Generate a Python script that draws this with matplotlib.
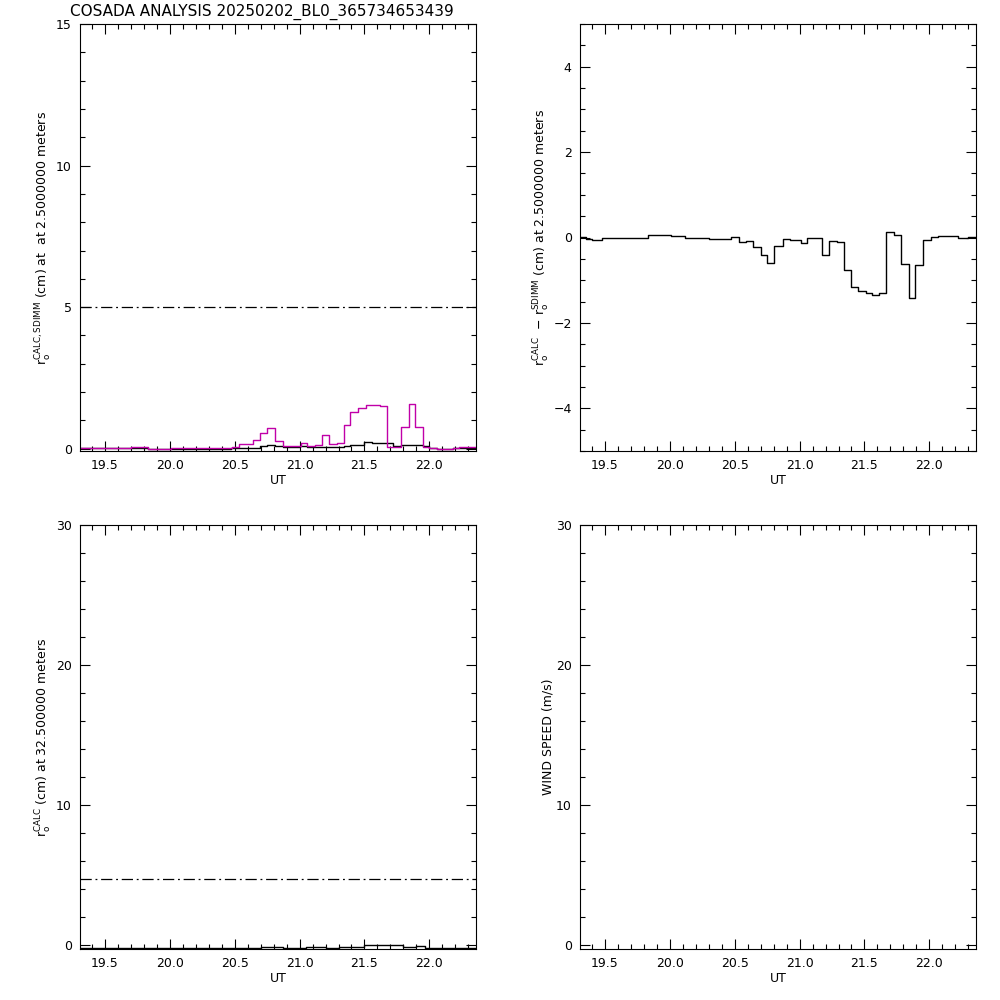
import matplotlib
matplotlib.use("Agg")
import matplotlib.pyplot as plt
from matplotlib.ticker import MultipleLocator

# ---- data (step change points, UT hours) ----
t_end = 22.36

# top left: r0 CALC (black) and SDIMM (magenta) at 2.5 m
calc_t = [19.307, 19.83, 20.47, 20.535, 20.694, 20.75, 20.81, 20.87, 21.0, 21.06,
          21.345, 21.39, 21.5, 21.56, 21.62, 21.72, 21.78, 21.89, 21.95, 22.0,
          22.06, 22.18]
calc_v = [0.02, 0.0, 0.02, 0.03, 0.10, 0.14, 0.09, 0.06, 0.10, 0.07,
          0.10, 0.14, 0.23, 0.19, 0.20, 0.10, 0.14, 0.12, 0.10, 0.03,
          -0.02, 0.02]

sdimm_t = [19.307, 19.70, 19.83, 20.01, 20.476, 20.535, 20.643, 20.694, 20.75, 20.81,
           20.87, 21.007, 21.06, 21.12, 21.175, 21.23, 21.285, 21.345, 21.39, 21.45,
           21.51, 21.62, 21.67, 21.78, 21.84, 21.89, 21.95, 22.0, 22.06, 22.18,
           22.23]
sdimm_v = [0.02, 0.05, 0.0, 0.02, 0.07, 0.18, 0.32, 0.55, 0.73, 0.27,
           0.09, 0.20, 0.09, 0.14, 0.50, 0.18, 0.20, 0.85, 1.31, 1.43,
           1.55, 1.50, 0.06, 0.76, 1.58, 0.76, 0.06, 0.03, -0.02, 0.03,
           0.06]
limit_25 = 5.0

# top right: CALC - SDIMM
diff_t = [19.307, 19.35, 19.40, 19.48, 19.83, 20.01, 20.12, 20.30, 20.47, 20.535,
          20.59, 20.64, 20.70, 20.75, 20.80, 20.87, 20.925, 21.007, 21.06, 21.17,
          21.23, 21.285, 21.344, 21.395, 21.45, 21.51, 21.56, 21.61, 21.665, 21.73,
          21.78, 21.84, 21.89, 21.95, 22.01, 22.07, 22.13, 22.22, 22.30]
diff_v = [0.01, -0.03, -0.06, -0.01, 0.06, 0.04, -0.01, -0.03, 0.02, -0.11,
          -0.09, -0.23, -0.40, -0.59, -0.19, -0.03, -0.05, -0.12, -0.02, -0.40,
          -0.09, -0.11, -0.75, -1.16, -1.25, -1.31, -1.34, -1.30, 0.13, 0.07,
          -0.63, -1.41, -0.65, -0.05, 0.02, 0.04, 0.03, -0.01, 0.02]

# bottom left: r0 CALC at 32.5 m
high_t = [19.307, 20.70, 20.87, 21.05, 21.20, 21.30, 21.40, 21.50, 21.62, 21.72,
          21.80, 21.90, 21.97]
high_v = [-0.22, -0.15, -0.20, -0.15, -0.20, -0.14, -0.10, 0.03, 0.0, 0.03,
          -0.10, -0.06, -0.20]
limit_325 = 4.76

xlim = (19.307, t_end)
xticks = [19.5, 20.0, 20.5, 21.0, 21.5, 22.0]

plt.rcParams['font.family'] = ['DejaVu Sans']
plt.rcParams['font.size'] = 9
plt.rcParams['axes.linewidth'] = 0.8

fig = plt.figure(figsize=(10, 10), dpi=100)


def steps(ax, t, v, color):
    ax.step(list(t) + [t_end], list(v) + [v[-1]], where='post', color=color, lw=1)


def style(ax, ylim, major, minor):
    ax.set_xlim(*xlim)
    ax.set_ylim(*ylim)
    ax.set_xticks(xticks)
    ax.set_xticklabels(['%.1f' % x for x in xticks])
    ax.xaxis.set_minor_locator(MultipleLocator(0.1))
    ax.yaxis.set_major_locator(MultipleLocator(major))
    ax.yaxis.set_minor_locator(MultipleLocator(minor))
    ax.tick_params(which='both', direction='in', top=True, right=True, width=0.8)
    ax.tick_params(which='major', length=7, labelsize=9, pad=6)
    ax.tick_params(which='minor', length=3.5)
    ax.set_xlabel('UT', fontsize=9, labelpad=1)


ax1 = fig.add_axes([0.08, 0.549, 0.396, 0.427])
steps(ax1, calc_t, calc_v, 'black')
steps(ax1, sdimm_t, sdimm_v, '#c000a8')
ax1.axhline(limit_25, color='black', lw=0.9, ls=(0, (9, 3, 1.5, 3)))
style(ax1, (-0.08, 15), 5, 1)
ax1.set_ylabel(r'r$_{\rm o}^{\rm CALC,SDIMM}$ (cm) at  at 2.5000000 meters', fontsize=9,
               labelpad=1)

ax2 = fig.add_axes([0.58, 0.549, 0.396, 0.427])
steps(ax2, diff_t, diff_v, 'black')
style(ax2, (-5, 5), 2, 0.5)
ax2.set_yticks([-4, -2, 0, 2, 4])
ax2.set_yticklabels(['\u22124', '\u22122', '0', '2', '4'])
ax2.set_ylabel(r'r$_{\rm o}^{\rm CALC}$  $-$ r$_{\rm o}^{\rm SDIMM}$ (cm) at 2.5000000 meters',
               fontsize=9, labelpad=1)

ax3 = fig.add_axes([0.08, 0.051, 0.396, 0.424])
steps(ax3, high_t, high_v, 'black')
ax3.axhline(limit_325, color='black', lw=0.9, ls=(0, (9, 3, 1.5, 3)))
style(ax3, (-0.27, 30), 10, 2)
ax3.set_ylabel(r'r$_{\rm o}^{\rm CALC}$ (cm) at 32.500000 meters', fontsize=9, labelpad=1)

ax4 = fig.add_axes([0.58, 0.051, 0.396, 0.424])
style(ax4, (-0.27, 30), 10, 2)
ax4.set_ylabel('WIND SPEED (m/s)', fontsize=9, labelpad=1)

fig.text(0.07, 0.988, 'COSADA ANALYSIS 20250202_BL0_365734653439', fontsize=11,
         ha='left', va='center')

fig.savefig('out.png', dpi=100, facecolor='white')
